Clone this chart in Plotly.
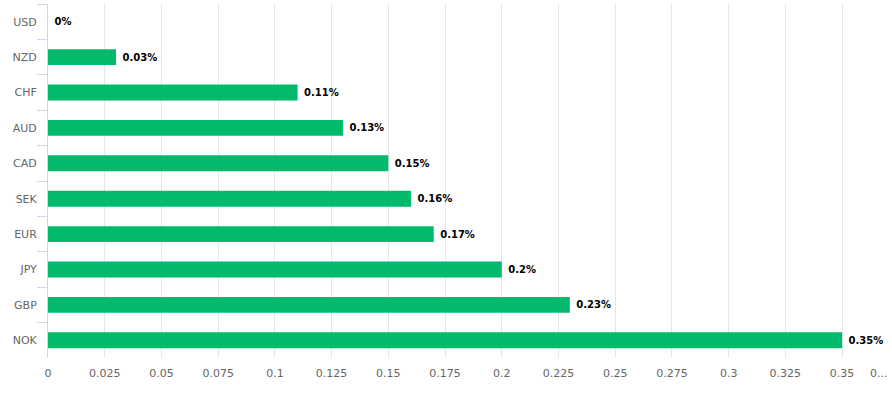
import plotly.graph_objects as go

currencies = ["USD", "NZD", "CHF", "AUD", "CAD", "SEK", "EUR", "JPY", "GBP", "NOK"]
values = [0, 0.03, 0.11, 0.13, 0.15, 0.16, 0.17, 0.2, 0.23, 0.35]
x_tick_values = [0, 0.025, 0.05, 0.075, 0.1, 0.125, 0.15, 0.175, 0.2, 0.225, 0.25, 0.275, 0.3, 0.325, 0.35]
x_tick_labels = ["0", "0.025", "0.05", "0.075", "0.1", "0.125", "0.15", "0.175", "0.2", "0.225",
                 "0.25", "0.275", "0.3", "0.325", "0.35"]
overflow_label = "0..."

labels = ["\u00a0" + f"{v:g}%" for v in values]

fig = go.Figure(go.Bar(
    x=values, y=currencies, orientation="h",
    marker=dict(color="#02BA6C", line=dict(width=0)),
    width=0.45,
    text=labels, textposition="outside", constraintext="none", cliponaxis=False,
    textfont=dict(family="DejaVu Sans", size=10, color="#000000", weight="bold"),
    hoverinfo="skip",
))

fig.update_layout(
    width=892, height=394,
    margin=dict(l=48, r=0, t=4, b=36),
    paper_bgcolor="white", plot_bgcolor="white",
    showlegend=False,
    font=dict(family="DejaVu Sans", size=11, color="#666666"),
    xaxis=dict(
        range=[0, 0.372], tickvals=x_tick_values, ticktext=x_tick_labels,
        showgrid=True, gridcolor="#e6e6e6", gridwidth=1,
        zeroline=False, showline=False, ticks="",
        tickfont=dict(size=11, color="#666666"), ticklabelstandoff=7,
        automargin=False, fixedrange=True,
    ),
    yaxis=dict(
        categoryorder="array", categoryarray=currencies, autorange="reversed",
        showline=True, linecolor="#ccd6eb", linewidth=1,
        ticks="outside", tickson="boundaries", ticklen=10, tickcolor="#ccd6eb",
        showgrid=False, zeroline=False,
        tickfont=dict(size=11, color="#666666"), ticklabelstandoff=8,
        automargin=False, fixedrange=True,
    ),
    annotations=[dict(
        x=0.985, xref="paper", y=0, yref="paper", yshift=-15,
        text=overflow_label, showarrow=False, xanchor="center", yanchor="middle",
        font=dict(size=11, color="#666666"),
    )],
)

fig.write_html(
    "out.html",
    config={"displayModeBar": False},
    post_script="document.body.style.margin='0px';document.body.style.overflow='hidden';",
)
